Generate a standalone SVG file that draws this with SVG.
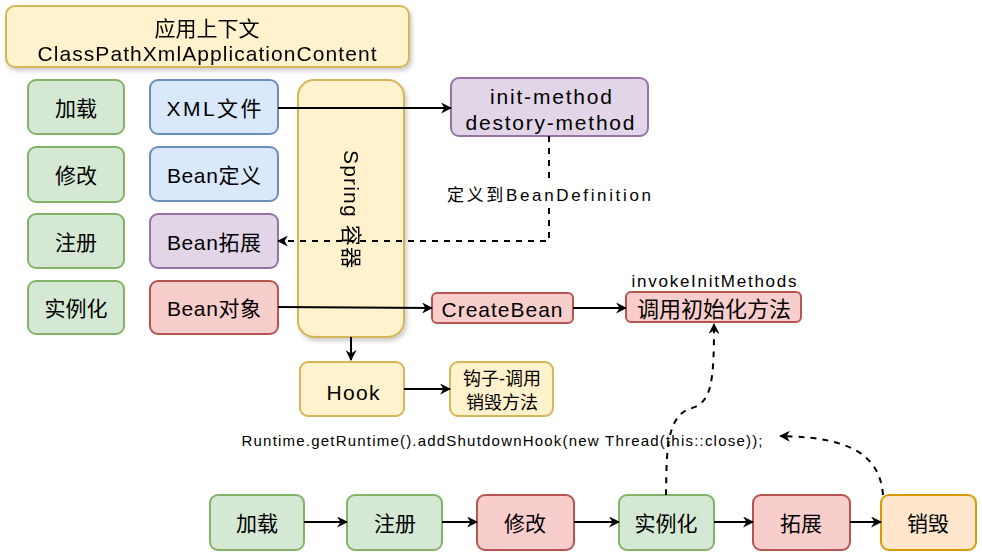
<svg xmlns="http://www.w3.org/2000/svg" width="982" height="556" viewBox="0 0 982 556">
<defs>
<style>
text{font-family:"Liberation Sans","Noto Sans CJK SC",sans-serif;fill:#000;text-anchor:middle;dominant-baseline:central}
.t{font-size:21px}
.s{font-size:17px}
.g{fill:#d5e8d4;stroke:#82b366;stroke-width:2}
.b{fill:#dae8fc;stroke:#6c8ebf;stroke-width:2}
.p{fill:#e1d5e7;stroke:#9673a6;stroke-width:2}
.r{fill:#f8cecc;stroke:#b85450;stroke-width:2}
.y{fill:#fff2cc;stroke:#d6b656;stroke-width:2}
.o{fill:#ffe6cc;stroke:#d79b00;stroke-width:2}
.l{fill:none;stroke:#000;stroke-width:2}
.d{fill:none;stroke:#000;stroke-width:2;stroke-dasharray:6 6}
</style>
<marker id="a" viewBox="0 0 10 10" refX="9" refY="5" markerWidth="11" markerHeight="11" markerUnits="userSpaceOnUse" orient="auto">
<path d="M0,0 L10,5 L0,10 L3,5 Z" fill="#000"/>
</marker>
<filter id="sh" x="-10%" y="-10%" width="130%" height="130%">
<feDropShadow dx="2" dy="3" stdDeviation="2" flood-color="#000" flood-opacity="0.2"/>
</filter>
</defs>
<g id="ctx" filter="url(#sh)"><rect class="y" x="6" y="6" width="403" height="61" rx="9"/><text class="t" x="207" y="28">应用上下文</text><text class="t" x="207" y="53" textLength="339">ClassPathXmlApplicationContent</text></g>
<g id="l1"><rect class="g" x="28" y="80" width="96" height="54" rx="8"/><text class="t" x="76" y="108">加载</text></g>
<g id="l2"><rect class="g" x="28" y="147" width="96" height="55" rx="8"/><text class="t" x="76" y="175">修改</text></g>
<g id="l3"><rect class="g" x="28" y="214" width="96" height="54" rx="8"/><text class="t" x="76" y="242">注册</text></g>
<g id="l4"><rect class="g" x="28" y="281" width="96" height="53" rx="8"/><text class="t" x="76" y="308">实例化</text></g>
<g id="xml"><rect class="b" x="150" y="80" width="128" height="54" rx="8"/><text class="t" x="214" y="108" textLength="95">XML文件</text></g>
<g id="bdef"><rect class="b" x="150" y="147" width="128" height="54" rx="8"/><text class="t" x="214" y="175" textLength="94">Bean定义</text></g>
<g id="bext"><rect class="p" x="150" y="214" width="128" height="54" rx="8"/><text class="t" x="214" y="242" textLength="94">Bean拓展</text></g>
<g id="bobj"><rect class="r" x="150" y="281" width="128" height="53" rx="8"/><text class="t" x="214" y="308" textLength="94">Bean对象</text></g>
<g id="spring" filter="url(#sh)"><rect class="y" x="298" y="80" width="106" height="257" rx="16"/><text class="t" transform="translate(351,209) rotate(90)" textLength="118">Spring 容器</text></g>
<g id="init"><rect class="p" x="451" y="78" width="197" height="58" rx="8"/><text class="t" x="551" y="96" textLength="122">init-method</text><text class="t" x="550" y="122" textLength="169">destory-method</text></g>
<g id="create"><rect class="r" x="432" y="293" width="141" height="30" rx="5"/><text class="t" x="502" y="309" textLength="121">CreateBean</text></g>
<g id="invoke"><rect class="r" x="626" y="292" width="175" height="30" rx="5"/><text x="714" y="309" style="font-size:22px">调用初始化方法</text><text class="s" x="714" y="281" textLength="165">invokeInitMethods</text></g>
<g id="hook"><rect class="y" x="300" y="362" width="104" height="54" rx="8"/><text class="t" x="353" y="392" textLength="53">Hook</text></g>
<g id="hookm"><rect class="y" x="450" y="362" width="103" height="54" rx="8"/><text x="502" y="379" style="font-size:18px">钩子-调用</text><text x="502" y="403" style="font-size:18px">销毁方法</text></g>
<g id="b1"><rect class="g" x="210" y="495" width="94" height="55" rx="8"/><text class="t" x="257" y="523">加载</text></g>
<g id="b2"><rect class="g" x="347" y="495" width="95" height="55" rx="8"/><text class="t" x="395" y="523">注册</text></g>
<g id="b3"><rect class="r" x="477" y="495" width="97" height="55" rx="8"/><text class="t" x="525" y="523">修改</text></g>
<g id="b4"><rect class="g" x="619" y="495" width="95" height="55" rx="8"/><text class="t" x="666" y="523">实例化</text></g>
<g id="b5"><rect class="r" x="753" y="495" width="97" height="55" rx="8"/><text class="t" x="801" y="523">拓展</text></g>
<g id="b6"><rect class="o" x="881" y="495" width="95" height="55" rx="8"/><text class="t" x="928" y="523">销毁</text></g>
<g id="connectors">
<path class="l" d="M278,108 H451" marker-end="url(#a)"/>
<path class="d" d="M549,136 V241 H278" marker-end="url(#a)"/>
<rect x="445" y="183" width="208" height="24" fill="#fff"/>
<text class="s" x="549" y="195" textLength="204">定义到BeanDefinition</text>
<path class="l" d="M278,307 L432,308" marker-end="url(#a)"/>
<path class="l" d="M573,308 H626" marker-end="url(#a)"/>
<path class="l" d="M351,337 V360" marker-end="url(#a)"/>
<path class="l" d="M404,389 H450" marker-end="url(#a)"/>
<path class="l" d="M304,522 H347" marker-end="url(#a)"/>
<path class="l" d="M442,522 H477" marker-end="url(#a)"/>
<path class="l" d="M574,522 H619" marker-end="url(#a)"/>
<path class="l" d="M714,522 H753" marker-end="url(#a)"/>
<path class="l" d="M850,522 H881" marker-end="url(#a)"/>
<path class="d" d="M666,495 C667,460 664,415 692,408 C712,402 714,380 714,324" marker-end="url(#a)"/>
<path class="d" d="M883,495 C880,455 850,437 780,436" marker-end="url(#a)"/>
<text x="502" y="440" style="font-size:15px" textLength="521">Runtime.getRuntime().addShutdownHook(new Thread(this::close));</text>
</g>
</svg>
